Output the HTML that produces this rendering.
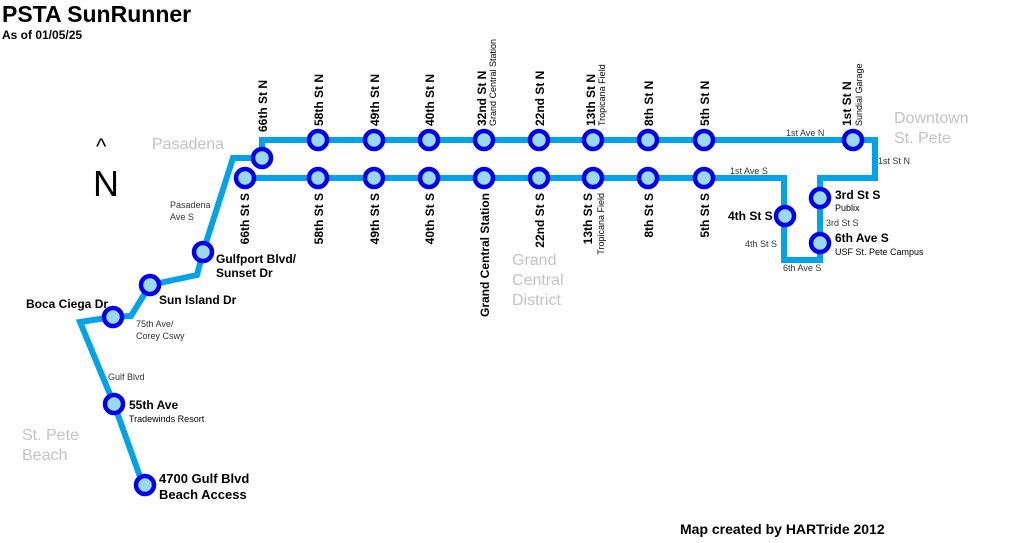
<!DOCTYPE html>
<html><head><meta charset="utf-8"><style>
body{margin:0;background:#fff;}
svg{display:block;font-family:"Liberation Sans",Arial,sans-serif;}
.st{font-weight:bold;font-size:12px;fill:#000;}
.sub{font-size:9px;fill:#000;}
.sm{font-size:9px;fill:#333;}
.area{font-size:16px;fill:#c3c3c3;}
</style></head><body>
<svg width="1023" height="543" viewBox="0 0 1023 543" xmlns="http://www.w3.org/2000/svg">
<text x="2" y="22" font-size="23" font-weight="bold">PSTA SunRunner</text>
<text x="2" y="39" font-size="12" font-weight="bold">As of 01/05/25</text>
<text x="96" y="154" font-size="22">^</text>
<text x="93" y="196" font-size="36">N</text>
<g fill="none" stroke="#00a2e8" stroke-width="6" stroke-linejoin="miter">
<polyline points="262,158 262,140 875,140 875,178 820,178 820,260 784,260 784,178 245,178"/>
<polyline points="262,158 233,158 203,252 197,275 150,285 131,316 113,317 80,322 114,404 143,485"/>
</g>
<g fill="#99d9ea" stroke="#0000ee" stroke-width="4.5">
<circle cx="262" cy="158" r="9"/><circle cx="245" cy="178" r="9"/>
<circle cx="318" cy="140" r="9"/><circle cx="374" cy="140" r="9"/><circle cx="429" cy="140" r="9"/><circle cx="484" cy="140" r="9"/><circle cx="539" cy="140" r="9"/><circle cx="593" cy="140" r="9"/><circle cx="648" cy="140" r="9"/><circle cx="704" cy="140" r="9"/><circle cx="853" cy="140" r="9"/>
<circle cx="318" cy="178" r="9"/><circle cx="374" cy="178" r="9"/><circle cx="429" cy="178" r="9"/><circle cx="484" cy="178" r="9"/><circle cx="539" cy="178" r="9"/><circle cx="593" cy="178" r="9"/><circle cx="648" cy="178" r="9"/><circle cx="704" cy="178" r="9"/>
<circle cx="785" cy="216" r="9"/><circle cx="820" cy="198" r="9"/><circle cx="820" cy="243" r="9"/>
<circle cx="203" cy="252" r="9"/><circle cx="150" cy="285" r="9"/><circle cx="113" cy="317" r="9"/><circle cx="114" cy="404" r="9"/><circle cx="145" cy="485" r="9"/>
</g>
<g class="st">
<text transform="translate(267,132) rotate(-90)">66th St N</text>
<text transform="translate(323,126) rotate(-90)">58th St N</text>
<text transform="translate(379,126) rotate(-90)">49th St N</text>
<text transform="translate(434,126) rotate(-90)">40th St N</text>
<text transform="translate(486,126) rotate(-90)">32nd St N</text>
<text transform="translate(544,126) rotate(-90)">22nd St N</text>
<text transform="translate(595,126) rotate(-90)">13th St N</text>
<text transform="translate(653,126) rotate(-90)">8th St N</text>
<text transform="translate(709,126) rotate(-90)">5th St N</text>
<text transform="translate(851,126) rotate(-90)">1st St N</text>
</g>
<g class="sub">
<text transform="translate(496,126) rotate(-90)">Grand Central Station</text>
<text transform="translate(605,126) rotate(-90)">Tropicana Field</text>
<text transform="translate(862,126) rotate(-90)">Sundial Garage</text>
</g>
<g class="st" text-anchor="end">
<text transform="translate(249,193) rotate(-90)">66th St S</text>
<text transform="translate(323,193) rotate(-90)">58th St S</text>
<text transform="translate(379,193) rotate(-90)">49th St S</text>
<text transform="translate(434,193) rotate(-90)">40th St S</text>
<text transform="translate(489,193) rotate(-90)">Grand Central Station</text>
<text transform="translate(544,193) rotate(-90)">22nd St S</text>
<text transform="translate(592,193) rotate(-90)">13th St S</text>
<text transform="translate(653,193) rotate(-90)">8th St S</text>
<text transform="translate(709,193) rotate(-90)">5th St S</text>
</g>
<text class="sub" text-anchor="end" transform="translate(604,193) rotate(-90)">Tropicana Field</text>
<g class="st">
<text x="728" y="220">4th St S</text>
<text x="835" y="199">3rd St S</text>
<text x="835" y="242">6th Ave S</text>
<text x="216" y="263">Gulfport Blvd/</text>
<text x="216" y="277">Sunset Dr</text>
<text x="159" y="304">Sun Island Dr</text>
<text x="26" y="308">Boca Ciega Dr</text>
<text x="129" y="409">55th Ave</text>
<text x="159" y="483" font-size="13">4700 Gulf Blvd</text>
<text x="159" y="499" font-size="13">Beach Access</text>
<text x="680" y="534" font-size="14">Map created by HARTride 2012</text>
</g>
<g class="sub">
<text x="835" y="211">Publix</text>
<text x="835" y="255">USF St. Pete Campus</text>
<text x="129" y="422">Tradewinds Resort</text>
</g>
<g class="sm">
<text x="786" y="136">1st Ave N</text>
<text x="878" y="164">1st St N</text>
<text x="730" y="174">1st Ave S</text>
<text x="826" y="226">3rd St S</text>
<text x="745" y="247">4th St S</text>
<text x="783" y="271">6th Ave S</text>
<text x="170" y="208">Pasadena</text>
<text x="170" y="220">Ave S</text>
<text x="136" y="327">75th Ave/</text>
<text x="136" y="339">Corey Cswy</text>
<text x="108" y="380">Gulf Blvd</text>
</g>
<g class="area">
<text x="152" y="149">Pasadena</text>
<text x="894" y="123">Downtown</text>
<text x="894" y="143">St. Pete</text>
<text x="512" y="265">Grand</text>
<text x="512" y="285">Central</text>
<text x="512" y="305">District</text>
<text x="22" y="440">St. Pete</text>
<text x="22" y="460">Beach</text>
</g>
</svg>
</body></html>
